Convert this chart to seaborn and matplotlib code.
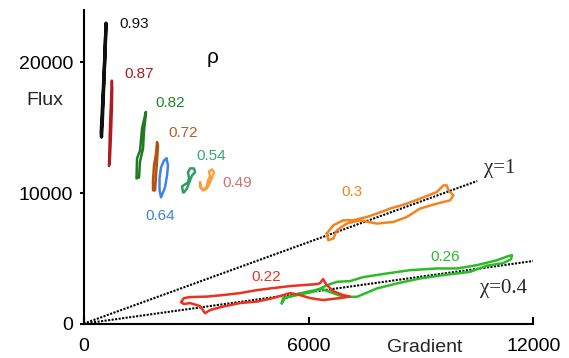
import matplotlib
matplotlib.use("Agg")
import matplotlib.pyplot as plt
import seaborn as sns

# ---------------- data (Gradient, Flux) ----------------
g_093 = [480, 500, 520, 540, 560, 580, 600, 590, 570, 545, 520, 495, 470, 480]
f_093 = [14300, 15300, 16800, 18200, 19800, 21500, 23000, 22000, 20500, 19000, 17500, 16000, 14600, 14300]

g_087 = [680, 690, 700, 715, 730, 745, 755, 765, 755, 740, 725, 710, 695, 680]
f_087 = [12100, 13200, 14500, 15800, 16800, 17800, 18600, 18000, 16500, 15200, 14000, 13000, 12300, 12100]

g_082 = [1659, 1560, 1507, 1427, 1413, 1480, 1507, 1587, 1613, 1667, 1659]
f_082 = [16176, 14932, 13253, 12643, 11117, 11193, 12414, 13406, 14779, 16153, 16176]

g_072 = [1960, 1933, 1880, 1853, 1853, 1907, 1933, 1960, 1987, 1960]
f_072 = [13864, 13000, 12109, 10964, 10201, 10201, 11346, 12490, 13635, 13864]

g_064 = [2213, 2253, 2227, 2173, 2067, 2027, 2027, 2067, 2147, 2213]
f_064 = [12643, 12109, 11346, 10430, 9667, 10201, 11117, 11956, 12490, 12643]

g_054 = [2653, 2627, 2707, 2787, 2813, 2787, 2840, 2947, 2973, 2893, 2840, 2760, 2680]
f_054 = [10049, 10507, 10659, 10812, 11117, 11575, 11880, 11880, 11575, 11346, 10964, 10354, 10049]

g_049 = [3107, 3133, 3240, 3293, 3320, 3373, 3347, 3427, 3480, 3427, 3373, 3293, 3187, 3107, 3107]
f_049 = [10812, 10354, 10277, 10583, 10964, 11270, 11651, 11804, 11575, 11193, 10812, 10354, 10201, 10507, 10812]

g_030 = [6486, 6662, 6929, 7196, 7553, 7820, 8174, 8620, 8974, 9420, 9596, 9687, 9729,
         9863, 9775, 9420, 8974, 8620, 8262, 7820, 7374, 7020, 6753, 6662, 6529, 6486]
f_030 = [6898, 7531, 7912, 7912, 8164, 8424, 8805, 9187, 9568, 10072, 10583, 10583, 10201,
         9820, 9438, 9187, 8805, 8164, 7783, 7661, 7912, 7661, 7149, 6516, 6386, 6898]

g_026 = [5286, 5321, 5694, 6121, 6388, 6574, 6761, 7108, 7454, 8094, 8708, 9428, 9961, 10494,
         11028, 11321, 11428, 11401, 11188, 10761, 10308, 9588, 8975, 8361, 7828, 7294, 6921,
         6654, 6361, 6041, 5694, 5374, 5286]
f_026 = [1557, 1961, 2190, 2442, 2800, 3029, 3205, 3258, 3563, 3846, 4097, 4227, 4227, 4479,
         4860, 5165, 5242, 4937, 4632, 4441, 3968, 3716, 3464, 3083, 2701, 2060, 2060,
         2342, 2648, 2495, 2266, 1961, 1557]

g_022 = [2600, 2680, 2840, 3294, 3720, 4174, 4627, 5054, 5507, 5854, 6228, 6307, 6387, 6467,
         6654, 6921, 7108, 6841, 6387, 6041, 5774, 5507, 5054, 4627, 4174, 3720, 3374, 3240,
         3107, 2840, 2680, 2600]
f_022 = [1656, 1961, 2037, 2075, 2190, 2342, 2571, 2724, 2877, 2953, 3029, 3105, 3411, 3029,
         2495, 2190, 2075, 1961, 1808, 1961, 2190, 2342, 1961, 1694, 1579, 1312, 1045, 800,
         1351, 1579, 1503, 1656]

rho_labels = ["0.93", "0.87", "0.82", "0.72", "0.64", "0.54", "0.49", "0.3", "0.26", "0.22"]
label_g = [1347, 1480, 2307, 2654, 2040, 3400, 4094, 7160, 9641, 4867]
label_f = [22943, 19120, 16916, 14627, 8218, 12796, 10736, 10049, 5112, 3586]

chi_labels = ["\u03c7=1", "\u03c7=0.4"]
chi_slope = [1.04, 0.40]
chi_end_g = [10500, 12000]

x_ticks = [0, 6000, 12000]
y_ticks = [0, 10000, 20000]

# ---------------- styling ----------------
sns.set_theme(style="ticks")
plt.rcParams["font.family"] = ["Liberation Sans", "DejaVu Sans"]

curve_colors = ["#111111", "#b01c1c", "#1f7a22", "#b5520f", "#3f82ef",
                "#2f9c62", "#f7a23a", "#f5821f", "#2dbb2a", "#e8331f"]
label_colors = ["#111111", "#a51e1e", "#22852a", "#b85a1e", "#3d80ec",
                "#3aa373", "#c8736e", "#f5821f", "#2dbb2a", "#e8331f"]

curves = [(g_093, f_093), (g_087, f_087), (g_082, f_082), (g_072, f_072), (g_064, f_064),
          (g_054, f_054), (g_049, f_049), (g_030, f_030), (g_026, f_026), (g_022, f_022)]

fig = plt.figure(figsize=(5.69, 3.58), dpi=100)
ax = fig.add_axes([0.1468, 0.0958, 0.7908, 0.8762])

# dotted chi lines
for slope, gend in zip(chi_slope, chi_end_g):
    sns.lineplot(x=[0, gend], y=[0, slope * gend], ax=ax, color="black",
                 lw=1.5, linestyle=(0, (1, 0.7)), sort=False, estimator=None)

for (g, f), c in zip(curves, curve_colors):
    lw = 2.4 if c == "#111111" else 1.8
    sns.lineplot(x=g, y=f, ax=ax, color=c, lw=lw, sort=False, estimator=None)

for lab, gx, fy, c in zip(rho_labels, label_g, label_f, label_colors):
    ax.text(gx, fy, lab, color=c, fontsize=11, ha="center", va="center")

ax.text(3454, 20348, "\u03c1", fontsize=15, ha="center", va="center", color="black")
ax.text(11108, 11857, chi_labels[0], fontsize=15, ha="center", va="center",
        family=["Liberation Serif", "DejaVu Serif"])
ax.text(11196, 2701, chi_labels[1], fontsize=15, ha="center", va="center",
        family=["Liberation Serif", "DejaVu Serif"])

ax.text(-1027, 17068, "Flux", fontsize=14, ha="center", va="center", clip_on=False)
ax.text(9108, -1800, "Gradient", fontsize=14, ha="center", va="center", clip_on=False)

ax.set_xlim(0, 12000)
ax.set_ylim(0, 24000)
ax.set_xticks(x_ticks)
ax.set_yticks(y_ticks)
ax.set_xticklabels([str(v) for v in x_ticks])
ax.set_yticklabels([str(v) for v in y_ticks])
ax.set_xlabel("")
ax.set_ylabel("")
for s in ["top", "right"]:
    ax.spines[s].set_visible(False)
for s in ["left", "bottom"]:
    ax.spines[s].set_linewidth(1.5)
    ax.spines[s].set_color("black")
ax.tick_params(axis="x", direction="in", length=5, width=1.5, pad=10, labelsize=14, colors="black")
ax.tick_params(axis="y", direction="out", length=3, width=1.5, pad=4.5, labelsize=14, colors="black")
ax.set_facecolor("white")
fig.patch.set_facecolor("white")

fig.savefig("out.png", dpi=100)
